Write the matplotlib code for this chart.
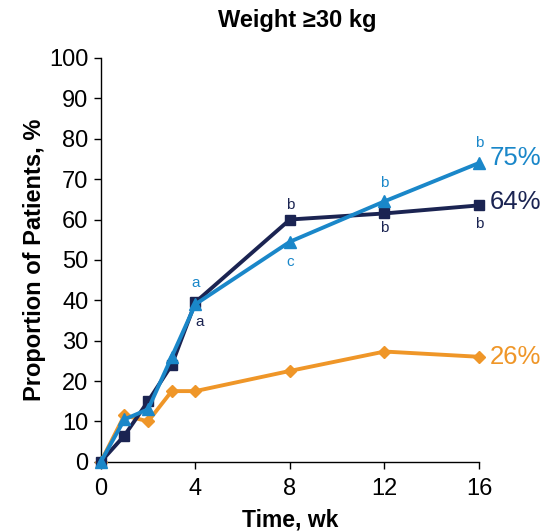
import matplotlib
matplotlib.use("Agg")
import matplotlib.pyplot as plt

plt.rcParams['font.family'] = ['Liberation Sans', 'DejaVu Sans']

weeks = [0, 1, 2, 3, 4, 8, 12, 16]
navy_vals = [0, 6.5, 15, 24, 39.5, 60, 61.5, 63.5]
blue_vals = [0, 10.5, 13, 26, 39, 54.5, 64.5, 74]
orange_vals = [0, 11.5, 10, 17.5, 17.5, 22.5, 27.3, 26]
end_labels = ["64%", "75%", "26%"]
xticks = [0, 4, 8, 12, 16]
yticks = list(range(0, 101, 10))

NAVY = '#1b2452'
BLUE = '#1a87c9'
ORANGE = '#ef9628'

fig = plt.figure(figsize=(5.45, 5.32), dpi=100)
ax = fig.add_axes([0.185, 0.132, 0.694, 0.759])

ax.plot(weeks, orange_vals, color=ORANGE, lw=2.8, marker='D', ms=6, zorder=3)
ax.plot(weeks, navy_vals, color=NAVY, lw=2.8, marker='s', ms=7, zorder=4)
ax.plot(weeks, blue_vals, color=BLUE, lw=2.8, marker='^', ms=8, zorder=5)

ax.set_xlim(0, 16)
ax.set_ylim(0, 100)
ax.set_xticks(xticks)
ax.set_yticks(yticks)
ax.tick_params(labelsize=17, length=5, width=1, colors='black', pad=4)
ax.tick_params(axis='x', pad=7)
for s in ['top', 'right']:
    ax.spines[s].set_visible(False)
for s in ['left', 'bottom']:
    ax.spines[s].set_linewidth(1)

ax.set_xlabel('Time, wk', fontsize=16.5, fontweight='bold', labelpad=6)
ax.set_ylabel('Proportion of Patients, %', fontsize=17, fontweight='bold', labelpad=2)
fig.text(0.545, 0.962, 'Weight ≥30 kg', ha='center', va='center', fontsize=17, fontweight='bold')

# significance letters
ann = [
    (4.0, 44.3, 'a', BLUE), (4.2, 34.7, 'a', NAVY),
    (8.0, 63.6, 'b', NAVY), (8.0, 49.5, 'c', BLUE),
    (12.0, 69.0, 'b', BLUE), (12.0, 58.0, 'b', NAVY),
    (16.0, 79.0, 'b', BLUE), (16.0, 59.0, 'b', NAVY),
]
for x, y, t, c in ann:
    ax.text(x, y, t, color=c, fontsize=11, ha='center', va='center', clip_on=False)

ax.text(16.45, navy_vals[-1] + 0.8, end_labels[0], color=NAVY, fontsize=18.5, ha='left', va='center', clip_on=False)
ax.text(16.45, blue_vals[-1] + 1.2, end_labels[1], color=BLUE, fontsize=18.5, ha='left', va='center', clip_on=False)
ax.text(16.45, orange_vals[-1], end_labels[2], color=ORANGE, fontsize=18.5, ha='left', va='center', clip_on=False)

for line in ax.lines:
    line.set_clip_on(False)

fig.savefig('out.png', dpi=100)
